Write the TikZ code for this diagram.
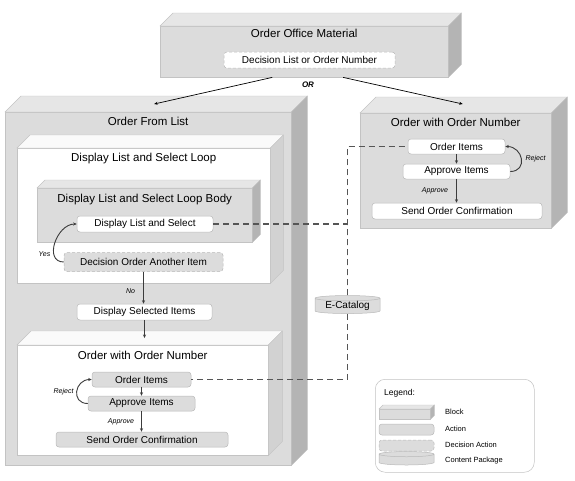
\documentclass[tikz,border=0pt]{standalone}
\usepackage{fontspec}
\setmainfont{Liberation Sans}
\usepackage{tikz}
\usetikzlibrary{shapes.geometric,arrows.meta,calc,positioning}
\definecolor{frontgrey}{RGB}{220,220,220}
\definecolor{topgrey}{RGB}{230,230,230}
\definecolor{sidegrey}{RGB}{180,180,180}
\definecolor{topwhite}{RGB}{250,250,250}
\definecolor{sidewhite}{RGB}{210,210,210}
\definecolor{edgegrey}{RGB}{195,195,195}
\definecolor{boxgrey}{RGB}{185,185,185}
\definecolor{linkgrey}{RGB}{85,85,85}
\definecolor{flowgrey}{RGB}{60,60,60}
\newcommand{\cubefaces}[4]{%
\filldraw[draw=edgegrey,line width=0.4pt,fill=#3] (#1.north west) -- ++(#2,-#2) -- ($(#1.north east)+(#2,-#2)$) -- (#1.north east) -- cycle;
\filldraw[draw=edgegrey,line width=0.4pt,fill=#4] (#1.north east) -- ++(#2,-#2) -- ($(#1.south east)+(#2,-#2)$) -- (#1.south east) -- cycle;}
\begin{document}
\begin{tikzpicture}[x=1pt,y=-1pt]
\tikzstyle{every node}+=[inner sep=0pt]
\tikzstyle{greyblock}=[draw=edgegrey,line width=0.4pt,fill=frontgrey,anchor=north west]
\tikzstyle{whiteblock}=[greyblock,fill=white]
\tikzstyle{blocktitle}=[font=\fontsize{11.5}{13}\selectfont]
\tikzstyle{action}=[draw=boxgrey,line width=0.5pt,fill=white,rounded corners=3pt,minimum height=15pt,font=\fontsize{10}{12}\selectfont]
\tikzstyle{greyaction}=[action,fill=frontgrey]
\tikzstyle{decision}=[action,dash pattern=on 3pt off 2pt]
\tikzstyle{package}=[cylinder,shape border rotate=90,aspect=0.12,draw=boxgrey,line width=0.5pt,fill=frontgrey,font=\fontsize{10}{12}\selectfont]
\tikzstyle{note}=[font=\fontsize{7}{8}\selectfont\itshape]
\tikzstyle{flow}=[draw=flowgrey,line width=0.9pt,-{Stealth[length=3.5pt,width=3pt]}]
\tikzstyle{orarrow}=[draw=black,line width=0.7pt,-{Stealth[length=3.5pt,width=3pt]}]
\tikzstyle{link}=[draw=linkgrey,line width=1.1pt,dash pattern=on 6pt off 4pt]
\tikzstyle{keytext}=[anchor=west,font=\fontsize{7.5}{9}\selectfont]
\useasboundingbox (0,0) rectangle (575,480);
\node[greyblock,minimum width=288pt,minimum height=51pt] (ofm) at (160,26) {};
\cubefaces{ofm}{13}{topgrey}{sidegrey}
\node[blocktitle,below=3pt of ofm.north] (ofmt) {Order Office Material};
\node[decision,minimum width=171pt,minimum height=16pt] (ofmdec) at (309.5,60) {Decision List or Order Number};
\node[greyblock,minimum width=286pt,minimum height=353pt] (ofl) at (5,112) {};
\cubefaces{ofl}{16}{topgrey}{sidegrey}
\node[blocktitle,below=5pt of ofl.north] (oflt) {Order From List};
\node[whiteblock,minimum width=253pt,minimum height=135pt] (dlsl) at (17,148) {};
\cubefaces{dlsl}{13}{topwhite}{sidewhite}
\node[blocktitle,below=5pt of dlsl.north] (dlslt) {Display List and Select Loop};
\node[greyblock,minimum width=215pt,minimum height=54pt] (body) at (37,188) {};
\cubefaces{body}{8}{topgrey}{sidegrey}
\node[blocktitle,below=6pt of body.north] (bodyt) {Display List and Select Loop Body};
\node[action,minimum width=136pt,minimum height=16pt] (dls) at (145,224) {Display List and Select};
\node[decision,fill=frontgrey,minimum width=159pt,minimum height=19pt] (dec) at (143.5,262) {Decision Order Another Item};
\node[action,minimum width=135pt,minimum height=16pt] (dsi) at (144.5,312) {Display Selected Items};
\node[whiteblock,minimum width=251pt,minimum height=110pt] (owon) at (17,345) {};
\cubefaces{owon}{14}{topwhite}{sidewhite}
\node[blocktitle,below=6pt of owon.north] (owont) {Order with Order Number};
\node[greyaction,minimum width=99pt] (oi1) at (141.5,379.5) {Order Items};
\node[greyaction,minimum width=107pt] (ai1) at (141.5,403.5) {Approve Items};
\node[greyaction,minimum width=172pt] (soc1) at (142,439.5) {Send Order Confirmation};
\node[greyblock,minimum width=191pt,minimum height=115pt] (ow) at (360,113) {};
\cubefaces{ow}{16}{topgrey}{sidegrey}
\node[blocktitle,below=5pt of ow.north] (owt) {Order with Order Number};
\node[action,minimum width=97pt] (oi2) at (456.5,146.5) {Order Items};
\node[action,minimum width=107pt] (ai2) at (456.5,171.5) {Approve Items};
\node[action,minimum width=170pt,minimum height=16pt] (soc2) at (457,211) {Send Order Confirmation};
\node[package,minimum width=65pt,minimum height=18pt] (ecat) at (347.5,306) {E-Catalog};
\coordinate (orleft) at ($(ofm.south)+(-32,0)$);
\coordinate (orright) at ($(ofm.south)+(39,0)$);
\coordinate (ofltop) at ($(ofl.north)+(6,-8)$);
\coordinate (owtop) at ($(ow.north)+(7,-9)$);
\draw[orarrow] (orleft) -- (ofltop);
\draw[orarrow] (orright) -- (owtop);
\node[font=\fontsize{8}{9}\selectfont\bfseries\itshape] (ortext) at (308,85) {OR};
\draw[flow] (dec.west) to[out=180,in=180,looseness=1.3] node[note,pos=0.3,left=3pt] {Yes} (dls.west);
\draw[flow] (dec.south) -- (dec.south |- dsi.north) node[note,pos=0.6,left=8pt] {No};
\coordinate (owontop) at ($(owon.north)+(0,-7)$);
\draw[flow] (dsi.south) -- (dsi.south |- owontop);
\draw[flow] (oi1.south) -- (ai1.north);
\draw[flow] (ai1.south) -- (ai1.south |- soc1.north) node[note,midway,left=7pt] {Approve};
\draw[flow] (ai1.west) to[out=180,in=180,looseness=1.8] node[note,midway,left=3pt] {Reject} (oi1.west);
\draw[flow] (oi2.south) -- (ai2.north);
\draw[flow] (ai2.south) -- (ai2.south |- soc2.north) node[note,midway,left=8pt] {Approve};
\draw[flow] (ai2.east) to[out=0,in=0,looseness=1.8] node[note,midway,right=4pt] {Reject} (oi2.east);
\draw[link] (ecat.north) |- (dls.east);
\draw[link] (ecat.north) |- (oi2.west);
\draw[link] (ecat.south) |- (oi1.east);
\node[draw=edgegrey,line width=0.5pt,fill=white,rounded corners=10pt,minimum width=159pt,minimum height=93pt,anchor=north west] (legend) at (375,379) {};
\node[anchor=west,font=\fontsize{8.5}{10}\selectfont] (legendt) at (384,393) {Legend:};
\node[greyblock,minimum width=51pt,minimum height=10pt] (keyblock) at (379,409) {};
\cubefaces{keyblock}{4}{topgrey}{sidegrey}
\node[greyaction,minimum width=55pt,minimum height=11pt] (keyaction) at (406.5,429.5) {};
\node[decision,fill=frontgrey,minimum width=55pt,minimum height=11pt] (keydecision) at (406.5,445.5) {};
\node[package,aspect=0.1,inner xsep=26pt,inner ysep=4pt,minimum width=55pt,minimum height=12pt] (keypackage) at (406.5,461) {};
\node[keytext] (keyblockt) at (445,412) {Block};
\node[keytext] (keyactiont) at (445,429) {Action};
\node[keytext] (keydecisiont) at (445,445) {Decision Action};
\node[keytext] (keypackaget) at (445,461) {Content Package};
\end{tikzpicture}
\end{document}
